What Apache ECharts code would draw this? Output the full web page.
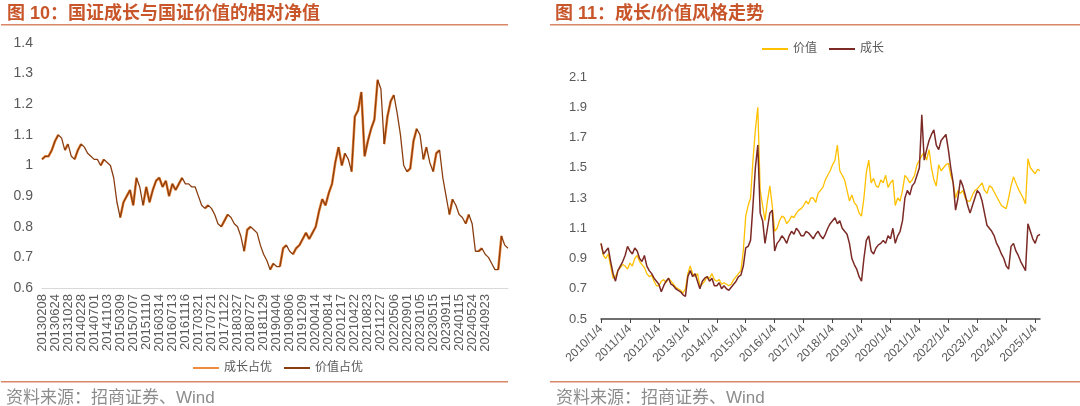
<!DOCTYPE html>
<html>
<head>
<meta charset="utf-8">
<script src="https://cdn.jsdelivr.net/npm/echarts@6/dist/echarts.min.js"></script>
<style>
  html, body { margin: 0; padding: 0; background: #fff; }
  #chart { width: 1080px; height: 406px; }
</style>
</head>
<body>
<div id="chart"></div>
<script>
// left chart: relative net value, tick labels every 4 points
const leftTickLabels = ['20130208','20130624','20131028','20140228','20140701','20141103','20150309','20150707','20151110','20160314','20160713','20161116','20170321','20170721','20171122','20180327','20180727','20181129','20190404','20190806','20191209','20200414','20200814','20201217','20210422','20210823','20211227','20220506','20220901','20230105','20230515','20230911','20240115','20240524','20240923'];
const relValue = [1.02,1.03,1.03,1.05,1.08,1.10,1.09,1.05,1.07,1.03,1.02,1.05,1.07,1.06,1.04,1.03,1.02,1.02,1.00,1.02,1.01,1.00,0.96,0.88,0.83,0.88,0.90,0.92,0.87,0.96,
  0.93,0.87,0.93,0.88,0.92,0.95,0.96,0.93,0.95,0.90,0.94,0.92,0.94,0.96,0.94,0.94,0.93,0.93,0.90,0.87,0.86,0.87,0.86,0.84,0.81,0.80,0.82,0.84,0.83,0.81,
  0.80,0.77,0.72,0.79,0.80,0.79,0.78,0.74,0.71,0.69,0.66,0.68,0.67,0.67,0.73,0.74,0.72,0.71,0.73,0.74,0.76,0.78,0.76,0.78,0.80,0.85,0.89,0.87,0.91,0.94,
  1.01,1.06,1.00,1.04,1.02,0.98,1.16,1.18,1.24,1.03,1.08,1.12,1.15,1.28,1.25,1.07,1.16,1.21,1.23,1.17,1.10,1.00,0.98,0.99,1.08,1.12,1.10,1.02,1.06,1.01,
  0.98,1.04,1.05,0.96,0.90,0.84,0.89,0.87,0.84,0.83,0.81,0.84,0.81,0.72,0.72,0.73,0.71,0.70,0.68,0.66,0.66,0.77,0.74,0.73];

// right chart: monthly style index 2010/01 - 2025/03
const rightYears = ['2010','2011','2012','2013','2014','2015','2016','2017','2018','2019','2020','2021','2022','2023','2024','2025'];
const valueIdx = [
  1.00,0.92,0.90,0.93,0.85,0.77,0.78,0.82,0.84,0.86,0.85,0.83,
  0.87,0.85,0.90,0.92,0.88,0.86,0.84,0.80,0.78,0.79,0.75,0.72,
  0.72,0.75,0.76,0.74,0.77,0.75,0.73,0.71,0.70,0.69,0.67,0.70,
  0.80,0.85,0.80,0.78,0.80,0.72,0.73,0.75,0.78,0.77,0.80,0.76,
  0.75,0.76,0.73,0.74,0.73,0.72,0.73,0.76,0.78,0.80,0.82,0.95,
  1.18,1.25,1.30,1.55,1.75,1.90,1.35,1.25,1.15,1.28,1.38,1.25,
  1.08,1.10,1.15,1.18,1.17,1.13,1.15,1.18,1.17,1.20,1.22,1.23,
  1.25,1.28,1.26,1.30,1.30,1.27,1.33,1.35,1.37,1.42,1.45,1.48,
  1.52,1.55,1.65,1.48,1.45,1.42,1.35,1.28,1.32,1.27,1.25,1.20,
  1.18,1.30,1.47,1.55,1.40,1.43,1.38,1.37,1.42,1.40,1.45,1.37,
  1.40,1.42,1.25,1.30,1.28,1.35,1.45,1.43,1.40,1.42,1.45,1.52,
  1.55,1.58,1.60,1.55,1.62,1.50,1.42,1.38,1.52,1.48,1.50,1.52,
  1.53,1.45,1.40,1.30,1.35,1.33,1.35,1.30,1.28,1.28,1.32,1.35,
  1.36,1.38,1.40,1.35,1.33,1.38,1.37,1.34,1.31,1.28,1.25,1.24,
  1.23,1.30,1.38,1.44,1.40,1.36,1.33,1.30,1.26,1.56,1.50,1.48,
  1.46,1.49,1.48];
const growthIdx = [
  1.00,0.93,0.95,0.97,0.88,0.80,0.75,0.82,0.85,0.88,0.92,0.98,
  0.95,0.93,0.97,0.95,0.90,0.88,0.92,0.85,0.82,0.80,0.77,0.75,
  0.73,0.68,0.72,0.75,0.77,0.73,0.72,0.70,0.69,0.68,0.66,0.65,
  0.78,0.82,0.78,0.80,0.75,0.70,0.75,0.77,0.78,0.75,0.77,0.72,
  0.72,0.74,0.70,0.72,0.70,0.69,0.71,0.73,0.75,0.78,0.79,0.85,
  0.97,0.98,1.02,1.25,1.50,1.65,1.20,1.15,1.00,1.10,1.20,1.22,
  0.95,1.00,1.02,1.05,1.03,1.00,1.05,1.08,1.06,1.10,1.08,1.05,
  1.05,1.08,1.07,1.05,1.03,1.06,1.08,1.05,1.03,1.06,1.10,1.13,
  1.15,1.17,1.13,1.15,1.10,1.08,1.06,1.00,0.90,0.86,0.83,0.78,
  0.75,0.90,1.02,1.05,0.95,0.93,0.97,0.99,1.00,1.02,1.00,1.05,
  1.03,1.10,1.00,1.05,1.08,1.15,1.30,1.35,1.32,1.38,1.40,1.45,
  1.50,1.85,1.55,1.62,1.68,1.72,1.75,1.65,1.62,1.68,1.70,1.72,
  1.62,1.50,1.40,1.22,1.30,1.42,1.38,1.32,1.25,1.20,1.25,1.30,
  1.35,1.33,1.28,1.20,1.12,1.10,1.08,1.05,1.00,0.97,0.93,0.90,
  0.85,0.83,0.98,1.00,0.95,0.92,0.88,0.85,0.82,1.13,1.08,1.03,
  1.00,1.05,1.06];

const leftCats = relValue.map((v, i) => (i % 4 === 0 ? (leftTickLabels[i / 4] || '') : ''));
// rising segments -> 成长占优 (drawn under the full 价值 line)
const upSeg = relValue.map(() => null);
for (let i = 0; i < relValue.length - 1; i++) {
  if (relValue[i + 1] > relValue[i]) { upSeg[i] = relValue[i]; upSeg[i + 1] = relValue[i + 1]; }
}
const rightCats = [];
rightYears.forEach(y => { for (let m = 1; m <= 12; m++) rightCats.push(y + '/' + m + '/4'); });
rightCats.length = valueIdx.length;

const accent = '#C8562A', lineC = '#D98766', axisTxt = '#595959';
const chart = echarts.init(document.getElementById('chart'));
chart.setOption({
  animation: false,
  textStyle: { fontFamily: 'Arial, "Noto Sans CJK SC"' },
  title: [
    { text: '图 10：国证成长与国证价值的相对净值', left: 2, top: 0, textStyle: { color: accent, fontSize: 18, fontWeight: 'bold' } },
    { text: '图 11：成长/价值风格走势', left: 550, top: 0, textStyle: { color: accent, fontSize: 18, fontWeight: 'bold' } },
    { text: '资料来源：招商证券、Wind', left: 1, top: 385, textStyle: { color: '#8C8C8C', fontSize: 17, fontWeight: 'normal' } },
    { text: '资料来源：招商证券、Wind', left: 551, top: 385, textStyle: { color: '#8C8C8C', fontSize: 17, fontWeight: 'normal' } }
  ],
  graphic: [
    { type: 'rect', shape: { x: 1, y: 24, width: 507, height: 1.5 }, style: { fill: lineC } },
    { type: 'rect', shape: { x: 550, y: 24, width: 530, height: 1.5 }, style: { fill: lineC } },
    { type: 'rect', shape: { x: 1, y: 381, width: 507, height: 1.5 }, style: { fill: lineC } },
    { type: 'rect', shape: { x: 550, y: 381, width: 530, height: 1.5 }, style: { fill: lineC } }
  ],
  legend: [
    { data: ['成长占优', '价值占优'], left: 188, top: 357, itemWidth: 26, itemHeight: 2, itemGap: 12,
      icon: 'rect', textStyle: { color: axisTxt, fontSize: 12 } },
    { data: ['价值', '成长'], left: 757, top: 38, itemWidth: 26, itemHeight: 2, itemGap: 12,
      icon: 'rect', textStyle: { color: axisTxt, fontSize: 12 } }
  ],
  grid: [
    { left: 42, right: 572, top: 43, bottom: 118 },
    { left: 601, right: 40, top: 77, bottom: 87 }
  ],
  xAxis: [
    { gridIndex: 0, type: 'category', data: leftCats, boundaryGap: false,
      axisLine: { lineStyle: { color: '#D9D9D9' } }, axisTick: { show: false },
      axisLabel: { interval: 3, rotate: 90, color: axisTxt, fontSize: 13, margin: 6 } },
    { gridIndex: 1, type: 'category', data: rightCats, boundaryGap: false,
      axisLine: { lineStyle: { color: '#404040', width: 1.5 } },
      axisTick: { interval: 11, length: 4, lineStyle: { color: '#404040' } },
      axisLabel: { interval: 11, rotate: 45, color: axisTxt, fontSize: 12, margin: 8 } }
  ],
  yAxis: [
    { gridIndex: 0, type: 'value', min: 0.6, max: 1.4, interval: 0.1,
      axisLine: { show: false }, axisTick: { show: false }, splitLine: { show: false },
      axisLabel: { color: axisTxt, fontSize: 14, margin: 9 } },
    { gridIndex: 1, type: 'value', min: 0.5, max: 2.1, interval: 0.2,
      axisLine: { show: false }, axisTick: { show: false }, splitLine: { show: false },
      axisLabel: { color: axisTxt, fontSize: 13, margin: 14 } }
  ],
  series: [
    { name: '成长占优', type: 'line', xAxisIndex: 0, yAxisIndex: 0, data: upSeg, showSymbol: false, z: 2,
      lineStyle: { color: '#F08A3E', width: 2.6 }, itemStyle: { color: '#F08A3E' } },
    { name: '价值占优', type: 'line', xAxisIndex: 0, yAxisIndex: 0, data: relValue, showSymbol: false, z: 3,
      lineStyle: { color: '#8A3E10', width: 1.3 }, itemStyle: { color: '#8A3E10' } },
    { name: '价值', type: 'line', xAxisIndex: 1, yAxisIndex: 1, data: valueIdx, showSymbol: false,
      lineStyle: { color: '#FFC000', width: 1.3 }, itemStyle: { color: '#FFC000' } },
    { name: '成长', type: 'line', xAxisIndex: 1, yAxisIndex: 1, data: growthIdx, showSymbol: false,
      lineStyle: { color: '#7B2A26', width: 1.5 }, itemStyle: { color: '#7B2A26' } }
  ]
});
</script>
</body>
</html>
